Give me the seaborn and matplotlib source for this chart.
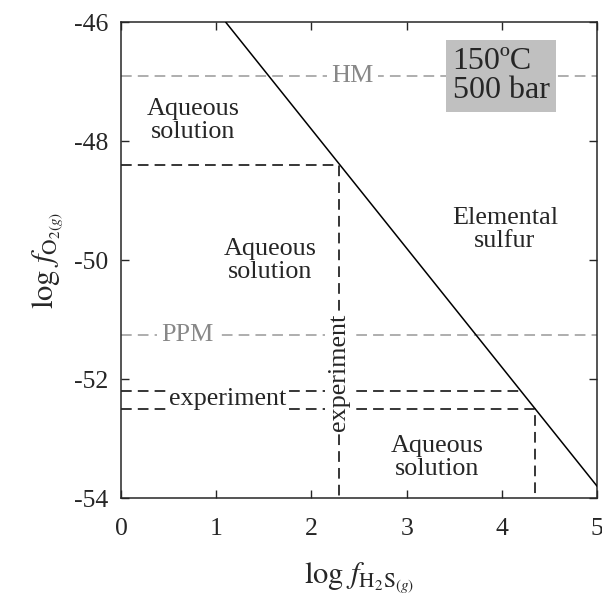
import numpy as np
import pandas as pd
import matplotlib
matplotlib.use('Agg')
import matplotlib.pyplot as plt
import seaborn as sns

# ── Data ─────────────────────────────────────────────
# solid boundary between aqueous solution and elemental sulfur
boundary_x = [1.1, 5.0]
boundary_y = [-46.0, -53.8]

# reference buffers (gray dashed)
hm_level = -46.9
ppm_level = -51.26

# experiment guide lines (black dashed)
exp1_x = [0.0, 2.29, 2.29]
exp1_y = [-48.4, -48.4, -54.0]
exp2_x = [0.0, 4.2]
exp2_y = [-52.2, -52.2]
exp3_x = [0.0, 4.35, 4.35]
exp3_y = [-52.5, -52.5, -54.0]

x_ticks = [0, 1, 2, 3, 4, 5]
y_ticks = [-54, -52, -50, -48, -46]

# ── Style ────────────────────────────────────────────
sns.set_style('ticks')
plt.rcParams['font.family'] = ['Liberation Serif', 'DejaVu Serif']
plt.rcParams['mathtext.fontset'] = 'stix'
plt.rcParams['axes.unicode_minus'] = False
plt.rcParams['xtick.direction'] = 'in'
plt.rcParams['ytick.direction'] = 'in'

fig = plt.figure(figsize=(6.02, 6.01), dpi=100)
ax = fig.add_axes([0.201, 0.171, 0.791, 0.792])

gray = '#999999'
dash = (0, (7, 4))

# gray buffer lines
ax.axhline(hm_level, color=gray, lw=1.1, ls=dash, zorder=1)
ax.axhline(ppm_level, color=gray, lw=1.1, ls=dash, zorder=1)

# experiment lines
for xs, ys in [(exp1_x, exp1_y), (exp2_x, exp2_y), (exp3_x, exp3_y)]:
    ax.plot(xs, ys, color='black', lw=1.1, ls=dash, zorder=2)

# boundary
sns.lineplot(x=boundary_x, y=boundary_y, color='black', lw=1.1, ax=ax, zorder=3)

# ── Labels inside plot ───────────────────────────────
fs = 18.8
ax.text(2.43, hm_level, 'HM', color='#888888', fontsize=fs, ha='center', va='center',
        bbox=dict(facecolor='white', edgecolor='none', pad=3), zorder=4)
ax.text(0.7, ppm_level, 'PPM', color='#888888', fontsize=fs, ha='center', va='center',
        bbox=dict(facecolor='white', edgecolor='none', pad=3), zorder=4)
ax.text(3.99, hm_level, '150ºC\n500 bar', fontsize=23, ha='center', va='center',
        linespacing=1.0, multialignment='left',
        bbox=dict(facecolor='#c0c0c0', edgecolor='none', pad=5), zorder=5)

ax.text(0.76, -47.65, 'Aqueous\nsolution', fontsize=fs, ha='center', va='center', linespacing=1.05)
ax.text(1.57, -50.0, 'Aqueous\nsolution', fontsize=fs, ha='center', va='center', linespacing=1.05)
ax.text(4.03, -49.48, 'Elemental\nsulfur', fontsize=fs, ha='center', va='center', linespacing=1.05)
ax.text(3.32, -53.32, 'Aqueous\nsolution', fontsize=fs, ha='center', va='center', linespacing=1.05)

ax.text(1.12, -52.33, 'experiment', fontsize=fs, ha='center', va='center',
        bbox=dict(facecolor='white', edgecolor='none', pad=2), zorder=4)
ax.text(2.29, -51.88, 'experiment', fontsize=fs, ha='center', va='center', rotation=90,
        bbox=dict(facecolor='white', edgecolor='none', pad=2), zorder=4)

# ── Axes ─────────────────────────────────────────────
ax.set_xlim(0, 5)
ax.set_ylim(-54, -46)
ax.set_xticks(x_ticks)
ax.set_yticks(y_ticks)
ax.tick_params(labelsize=18.5, length=6, width=1.0, top=True, right=True, pad=9)
ax.tick_params(axis='x', pad=14)
for s in ax.spines.values():
    s.set_linewidth(1.1)
    s.set_visible(True)

ax.set_xlabel(r'$\log\, f_{\mathrm{H_2S}_{(g)}}$', fontsize=22, labelpad=15)
ax.set_ylabel(r'$\log\, f_{\mathrm{O}_{2(g)}}$', fontsize=22, labelpad=6)

fig.savefig('out.png', dpi=100)
